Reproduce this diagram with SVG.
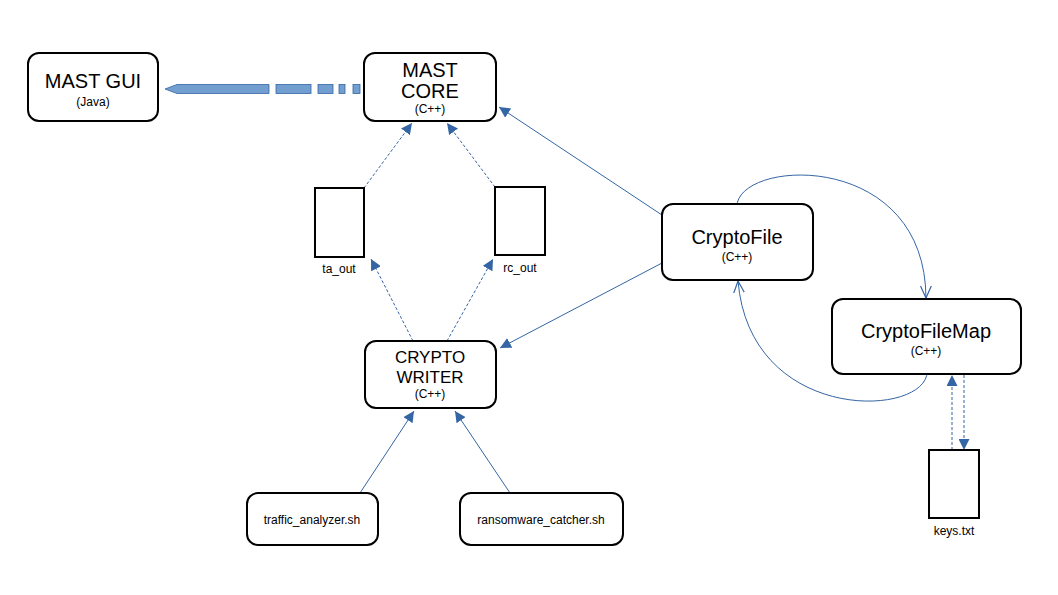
<svg xmlns="http://www.w3.org/2000/svg" width="1058" height="595" viewBox="0 0 1058 595">
<style>
.box{fill:#fff;stroke:#000;stroke-width:2}
.t{font-family:"Liberation Sans",Arial,sans-serif;fill:#000;text-anchor:middle}
.big{font-size:20px}
.mid{font-size:12px}
.sm{font-size:12px}
.c{fill:none;stroke:#3465a4;stroke-width:1}
.d{stroke-dasharray:3,2}
</style>
<defs>
<marker id="ah" viewBox="0 0 10 10" refX="10" refY="5" markerWidth="11" markerHeight="11" markerUnits="userSpaceOnUse" orient="auto">
<path d="M0,0 L10,5 L0,10 z" fill="#3465a4"/>
</marker>
<marker id="oh" viewBox="0 0 10 10" refX="10" refY="5" markerWidth="12" markerHeight="12" markerUnits="userSpaceOnUse" orient="auto">
<path d="M0,0.5 L10,5 L0,9.5" fill="none" stroke="#3465a4" stroke-width="1"/>
</marker>
</defs>
<rect width="1058" height="595" fill="#fff"/>
<g id="connectors">
<g fill="#729fcf" stroke="#3465a4" stroke-width="0.8">
<path d="M269,84.5 L177,84.5 L165,89 L177,93.5 L269,93.5 z"/>
<rect x="276" y="84.5" width="35" height="9"/>
<rect x="318" y="84.5" width="15" height="9"/>
<rect x="339" y="84.5" width="6" height="9"/>
<rect x="353" y="84.5" width="7" height="9"/>
</g>
<line class="c d" x1="364" y1="188" x2="412" y2="123" marker-end="url(#ah)"/>
<line class="c d" x1="495" y1="187" x2="447" y2="123" marker-end="url(#ah)"/>
<line class="c d" x1="413" y1="341" x2="371" y2="259" marker-end="url(#ah)"/>
<line class="c d" x1="447" y1="341" x2="493" y2="259" marker-end="url(#ah)"/>
<line class="c" x1="662" y1="215" x2="499" y2="107" marker-end="url(#ah)"/>
<line class="c" x1="662" y1="263" x2="500" y2="348" marker-end="url(#ah)"/>
<line class="c" x1="360" y1="493" x2="414" y2="411" marker-end="url(#ah)"/>
<line class="c" x1="510" y1="493" x2="455" y2="411" marker-end="url(#ah)"/>
<path class="c" d="M737,204 C745,158 925,152 926,298" marker-end="url(#oh)"/>
<path class="c" d="M927,374 C920,418 750,422 738,281" marker-end="url(#oh)"/>
<line class="c d" x1="952" y1="450" x2="952" y2="375" marker-end="url(#ah)"/>
<line class="c d" x1="964" y1="375" x2="964" y2="450" marker-end="url(#ah)"/>
</g>
<g id="mast-gui">
<rect class="box" x="28" y="53" width="130" height="68" rx="11"/>
<text class="t big" x="93" y="88">MAST GUI</text>
<text class="t sm" x="93" y="106">(Java)</text>
</g>
<g id="mast-core">
<rect class="box" x="364" y="53" width="132" height="68" rx="11"/>
<text class="t big" x="430" y="77">MAST</text>
<text class="t big" x="430" y="98">CORE</text>
<text class="t sm" x="430" y="113">(C++)</text>
</g>
<g id="ta-out">
<rect class="box" x="315" y="188" width="49" height="69"/>
<text class="t sm" x="339" y="273">ta_out</text>
</g>
<g id="rc-out">
<rect class="box" x="495" y="187" width="50" height="68"/>
<text class="t sm" x="520" y="272">rc_out</text>
</g>
<g id="crypto-writer">
<rect class="box" x="365" y="341" width="131" height="67" rx="11"/>
<text class="t" style="font-size:17px" x="430" y="363">CRYPTO</text>
<text class="t" style="font-size:17px" x="430" y="383">WRITER</text>
<text class="t sm" x="430" y="398">(C++)</text>
</g>
<g id="cryptofile">
<rect class="box" x="662" y="204" width="151" height="76" rx="11"/>
<text class="t big" x="737" y="244">CryptoFile</text>
<text class="t sm" x="737" y="261">(C++)</text>
</g>
<g id="cryptofilemap">
<rect class="box" x="832" y="299" width="189" height="75" rx="11"/>
<text class="t big" x="926" y="338">CryptoFileMap</text>
<text class="t sm" x="926" y="355">(C++)</text>
</g>
<g id="keys">
<rect class="box" x="929" y="450" width="50" height="68"/>
<text class="t sm" x="954" y="535">keys.txt</text>
</g>
<g id="traffic-analyzer">
<rect class="box" x="247" y="493" width="131" height="52" rx="11"/>
<text class="t mid" x="312" y="524">traffic_analyzer.sh</text>
</g>
<g id="ransomware-catcher">
<rect class="box" x="460" y="493" width="163" height="52" rx="11"/>
<text class="t mid" x="541" y="524">ransomware_catcher.sh</text>
</g>
</svg>
